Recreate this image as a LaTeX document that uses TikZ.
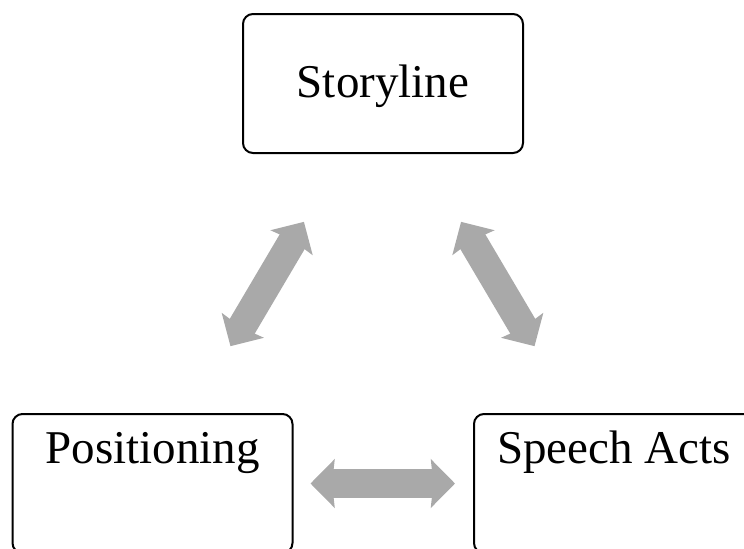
\documentclass[tikz,border=0pt]{standalone}
\usepackage{fontspec}
\setmainfont{Liberation Serif}
\usetikzlibrary{arrows.meta}
\definecolor{arrowgray}{RGB}{169,169,169}

\begin{document}
\begin{tikzpicture}[x=1pt, y=1pt,
    box/.style={draw, line width=1pt, rounded corners=5pt, minimum width=140pt, minimum height=69.5pt},
    lbl/.style={anchor=base, font=\fontsize{23.5}{28}\selectfont},
    twoway/.style={arrowgray, line width=14.5pt, {Stealth[length=12pt,width=24pt,inset=1.2pt]}-{Stealth[length=12pt,width=24pt,inset=1.2pt]}}]
            \clip (0, 0) rectangle (372, 274);
            \node[box] (story) at (191.5, 232.25) {};
            \node[box] (pos) at (76.25, 32.25) {};
            \node[box] (speech) at (307, 32.25) {};
            \node[lbl] (story-lbl) at ([yshift=-6.75pt]story.center) {Storyline};
            \node[lbl] (pos-lbl) at ([yshift=10.25pt]pos.center) {Positioning};
            \node[lbl] (speech-lbl) at ([yshift=10.25pt]speech.center) {Speech Acts};
            \draw[twoway, shorten <=38.8pt, shorten >=39.4pt] ([xshift=19.25pt]pos.north) -- ([xshift=-19.5pt]story.south);
            \draw[twoway, shorten <=38.8pt, shorten >=39.4pt] ([xshift=-20pt]speech.north) -- ([xshift=19pt]story.south);
            \draw[twoway, shorten <=8.5pt, shorten >=9pt] (pos.east) -- (speech.west);
        \end{tikzpicture}
\end{document}
